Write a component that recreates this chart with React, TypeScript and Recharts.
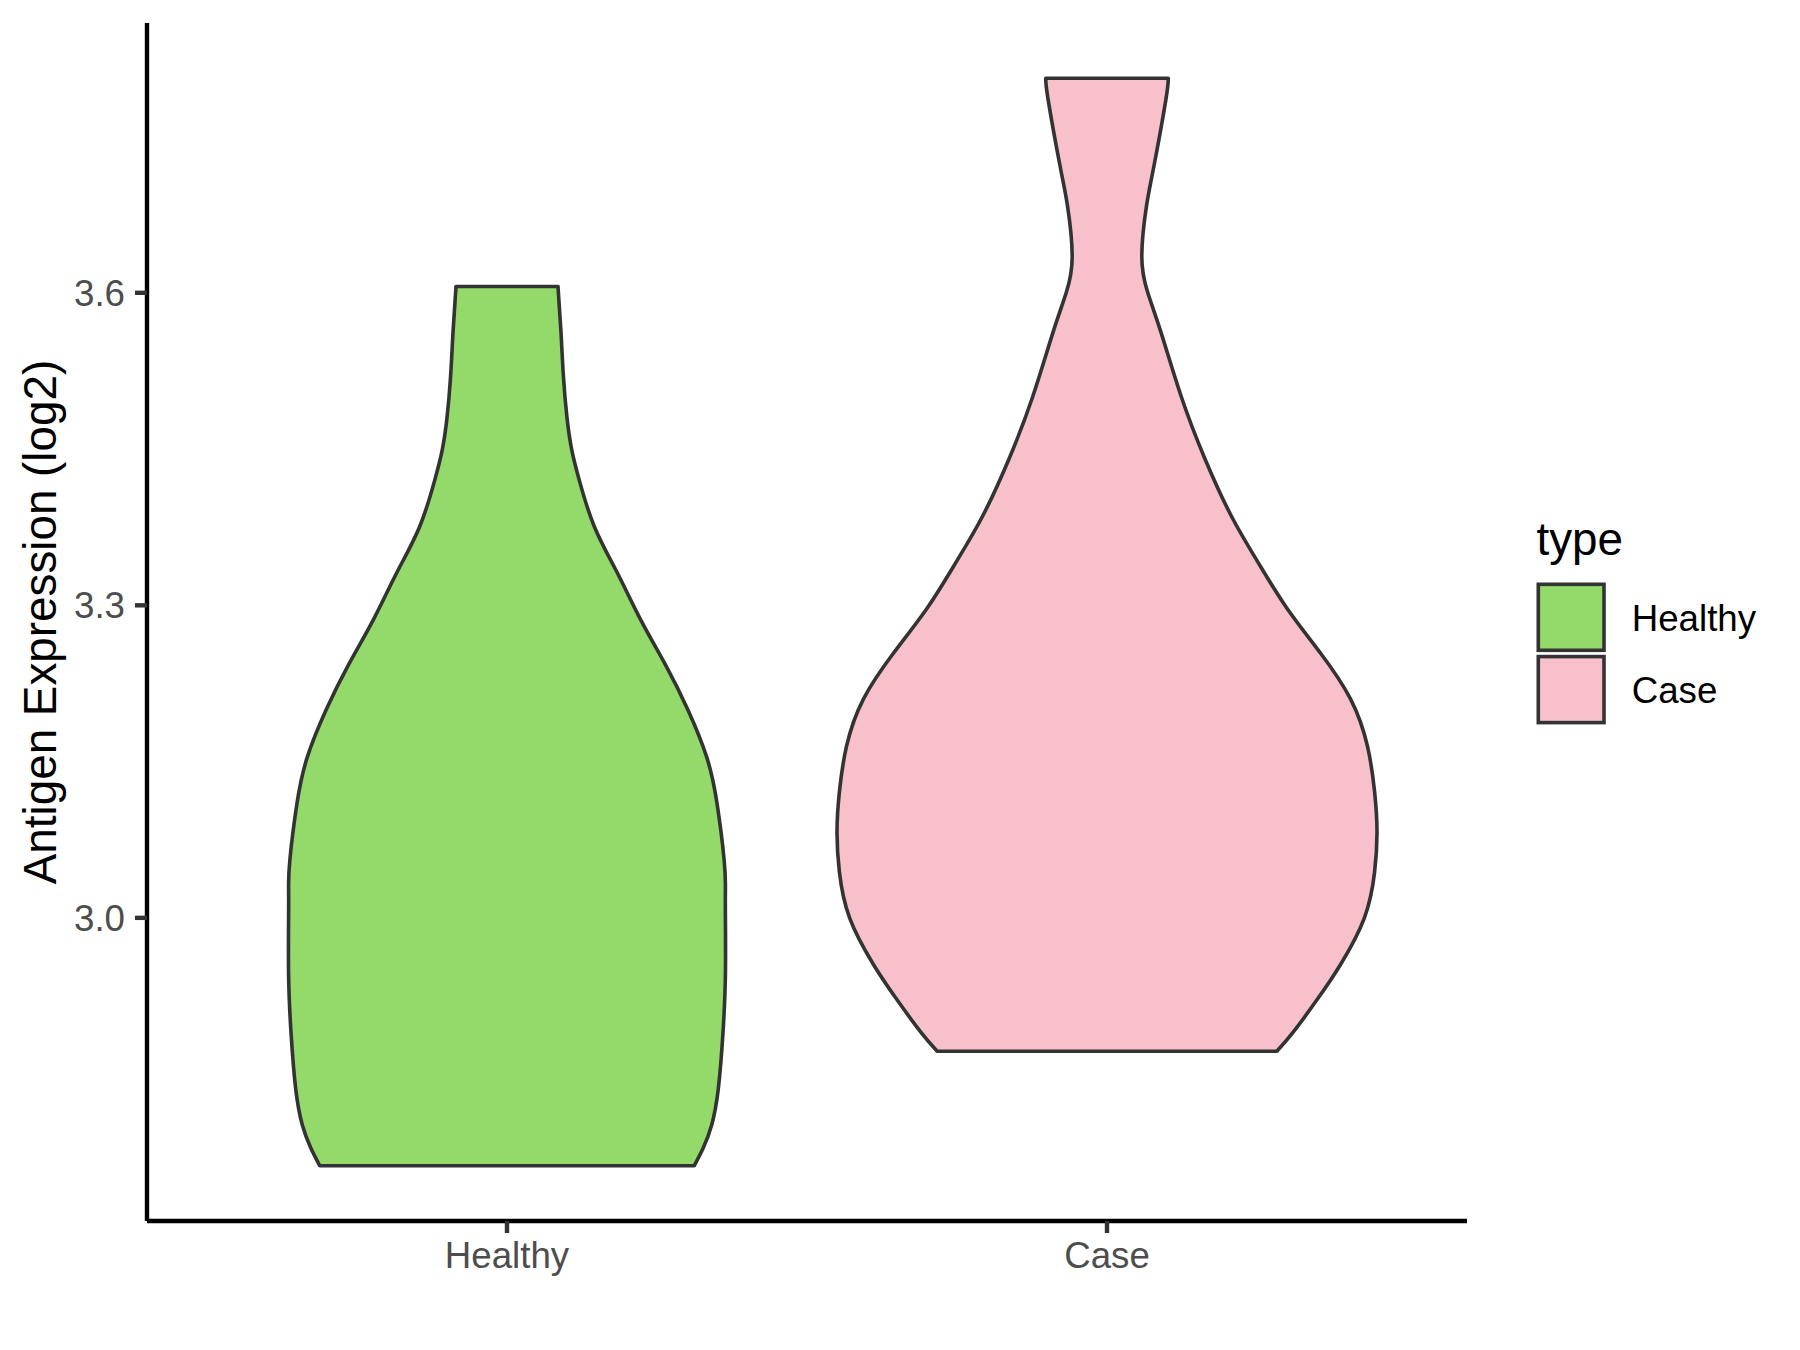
import { ComposedChart, Area, Line, XAxis, YAxis, Legend } from 'recharts'

// violin outlines: expression value -> half width (in category units)
const categories = ['Healthy', 'Case']
const fills = ['#93DA6A', '#F7C0CB']
const yTicks = [3.0, 3.3, 3.6]

const healthyY = [2.762, 2.779, 2.801, 2.835, 2.890, 2.945, 3.000, 3.028, 3.055, 3.110, 3.154, 3.199, 3.243, 3.287, 3.331, 3.375, 3.419, 3.449, 3.480, 3.520, 3.562, 3.606]
const healthyWidth = [0.312, 0.327, 0.341, 0.352, 0.360, 0.364, 0.364, 0.364, 0.362, 0.350, 0.333, 0.302, 0.264, 0.222, 0.184, 0.146, 0.121, 0.108, 0.100, 0.094, 0.090, 0.085]

const caseY = [2.872, 2.890, 2.923, 2.956, 3.000, 3.044, 3.083, 3.121, 3.165, 3.210, 3.254, 3.298, 3.342, 3.386, 3.441, 3.500, 3.562, 3.600, 3.635, 3.684, 3.721, 3.785, 3.806]
const caseWidth = [0.283, 0.310, 0.352, 0.390, 0.429, 0.446, 0.450, 0.446, 0.434, 0.406, 0.356, 0.299, 0.251, 0.207, 0.163, 0.124, 0.090, 0.068, 0.058, 0.066, 0.078, 0.098, 0.102]

const STROKE = '#333333'
const FONT = '"Liberation Sans", Arial, Helvetica, sans-serif'

function violinRows(ys: number[], ws: number[], center: number) {
  return ys.map((y, i) => ({ y, range: [center - ws[i], center + ws[i]] }))
}

function capRows(ys: number[], ws: number[], center: number, i: number) {
  return [
    { y: ys[i], x: center - ws[i] },
    { y: ys[i], x: center + ws[i] },
  ]
}

const violins = [
  { name: categories[0], ys: healthyY, ws: healthyWidth, center: 1, fill: fills[0] },
  { name: categories[1], ys: caseY, ws: caseWidth, center: 2, fill: fills[1] },
]

function LegendBox() {
  return (
    <svg width={280} height={240} style={{ overflow: 'visible' }}>
      <text x={16.5} y={55} fontSize={45.8} fill="#000" fontFamily={FONT}>type</text>
      {violins.map((v, i) => (
        <g key={v.name}>
          <rect x={18.3} y={84.3 + i * 72.3} width={65.7} height={66} fill={v.fill} stroke={STROKE} strokeWidth={3.6} />
          <text x={111.7} y={131 + i * 72.3} fontSize={36.7} fill="#000" fontFamily={FONT}>{v.name}</text>
        </g>
      ))}
    </svg>
  )
}

export default function App() {
  return (
    <div style={{ position: 'absolute', left: 0, top: 0, width: 1800, height: 1350, background: '#fff' }}>
      <ComposedChart
        layout="vertical"
        width={1800}
        height={1350}
        margin={{ top: 23, right: 333, bottom: 0, left: 0 }}
      >
        <XAxis
          type="number"
          domain={[0.4, 2.6]}
          ticks={[1, 2]}
          allowDataOverflow
          tickFormatter={(v: number) => categories[Math.round(v) - 1] ?? ''}
          height={129}
          axisLine={{ stroke: '#000', strokeWidth: 4.4 }}
          tickLine={{ stroke: STROKE, strokeWidth: 4.4 }}
          tickSize={12}
          tickMargin={9}
          tick={{ fill: '#4D4D4D', fontSize: 36.7, fontFamily: FONT }}
        />
        <YAxis
          type="number"
          dataKey="y"
          reversed
          domain={[2.709, 3.859]}
          ticks={yTicks}
          allowDataOverflow
          tickFormatter={(v: number) => v.toFixed(1)}
          width={147}
          axisLine={{ stroke: '#000', strokeWidth: 4.4 }}
          tickLine={{ stroke: STROKE, strokeWidth: 4.4 }}
          tickSize={12}
          tickMargin={10}
          tick={{ fill: '#4D4D4D', fontSize: 36.7, fontFamily: FONT }}
          label={() => (
            <text
              x={55.5}
              y={622}
              transform="rotate(-90 55.5 622)"
              textAnchor="middle"
              fontSize={45.8}
              fill="#000"
              fontFamily={FONT}
            >
              Antigen Expression (log2)
            </text>
          )}
        />
        {violins.map((v) => (
          <Area
            key={v.name}
            data={violinRows(v.ys, v.ws, v.center)}
            dataKey="range"
            type="natural"
            fill={v.fill}
            fillOpacity={1}
            stroke={STROKE}
            strokeWidth={3.6}
            dot={false}
            activeDot={false}
            isAnimationActive={false}
          />
        ))}
        {violins.flatMap((v) =>
          [0, v.ys.length - 1].map((i) => (
            <Line
              key={`${v.name}-cap-${i}`}
              data={capRows(v.ys, v.ws, v.center, i)}
              dataKey="x"
              type="linear"
              stroke={STROKE}
              strokeWidth={3.6}
              strokeLinecap="round"
              dot={false}
              activeDot={false}
              isAnimationActive={false}
            />
          ))
        )}
        <Legend
          layout="vertical"
          align="center"
          verticalAlign="middle"
          wrapperStyle={{ left: 1520, top: 500, width: 280, height: 240 }}
          content={() => <LegendBox />}
        />
      </ComposedChart>
    </div>
  )
}
